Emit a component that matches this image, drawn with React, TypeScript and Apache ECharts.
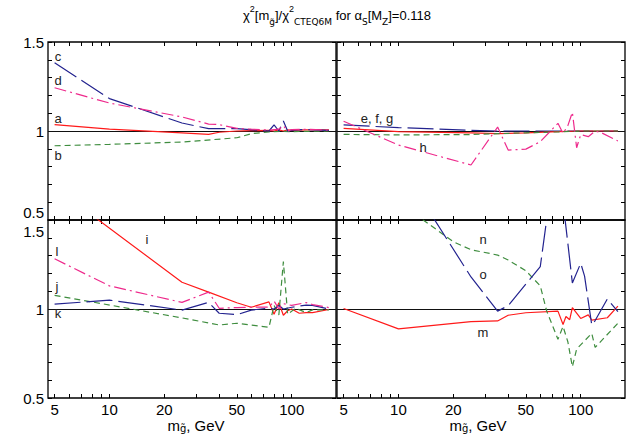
import React, { useEffect, useRef } from "react";
import * as echarts from "echarts";

// ---- axis ticks / labels ----
const xTickMasses = [5, 6, 7, 8, 9, 10, 20, 30, 40, 50, 60, 70, 80, 90, 100];
const xLabelMasses = [5, 10, 20, 50, 100];
const yLabelValues = [0.5, 1, 1.5];
const X_MIN = 4.6;
const X_MAX = 175;
const Y_MIN = 0.5;
const Y_MAX = 1.5;

// ---- top-left panel ----
const aX = [5, 10, 25, 35, 40, 50, 60, 75, 80, 85, 90, 95, 100, 120, 160];
const aY = [1.036, 1.01, 0.99, 0.981, 0.993, 1.0, 1.002, 1.003, 1.0, 1.006, 1.0, 1.006, 1.004, 1.006, 1.006];
const bX = [5, 10, 25, 50, 60, 75, 90, 100, 120, 160];
const bY = [0.917, 0.925, 0.938, 0.962, 0.985, 0.995, 0.998, 0.996, 0.998, 1.0];
const cX = [5, 10, 25, 35, 50, 75, 80, 85, 90, 95, 100, 120, 160];
const cY = [1.384, 1.182, 1.045, 1.013, 1.013, 1.0, 1.034, 1.0, 1.056, 1.0, 1.005, 1.008, 1.004];
const dX = [5, 10, 25, 35, 40, 50, 60, 75, 85, 90, 95, 100, 120, 160];
const dY = [1.243, 1.157, 1.079, 1.039, 1.036, 1.015, 1.01, 1.005, 1.01, 1.03, 1.0, 1.008, 1.01, 1.005];

// ---- top-right panel ----
const eX = [5, 10, 25, 35, 50, 75, 100, 160];
const eY = [1.034, 1.019, 1.004, 1.0, 1.0, 1.0, 1.0, 1.0];
const fX = [5, 10, 25, 35, 50, 75, 100, 160];
const fY = [1.015, 0.997, 0.99, 0.985, 0.99, 0.997, 1.0, 1.0];
const gX = [5, 10, 25, 35, 50, 75, 100, 160];
const gY = [0.981, 0.978, 0.98, 0.985, 0.99, 0.995, 1.0, 1.0];
const hX = [5, 10, 25, 35, 40, 50, 60, 75, 80, 85, 90, 95, 100, 110, 120, 130, 160];
const hY = [1.055, 0.921, 0.809, 1.022, 0.893, 0.898, 0.94, 1.043, 0.987, 1.03, 1.105, 0.906, 0.98, 0.968, 1.0, 0.99, 0.944];

// ---- bottom-left panel ----
const iX = [5, 25, 35, 50, 60, 75, 80, 85, 90, 95, 100, 110, 120, 130, 160];
const iY = [1.684, 1.15, 1.095, 1.035, 1.01, 1.04, 0.97, 1.035, 0.965, 0.99, 1.0, 0.976, 0.98, 0.98, 0.997];
const jX = [5, 25, 40, 50, 75, 80, 85, 90, 95, 105, 120, 130, 160];
const jY = [1.077, 0.95, 0.91, 0.92, 0.897, 1.02, 0.966, 1.266, 0.97, 1.004, 0.98, 0.995, 0.995];
const kX = [5, 10, 25, 35, 40, 50, 60, 75, 80, 85, 90, 100, 120, 130, 160];
const kY = [1.027, 1.05, 0.994, 1.037, 0.976, 0.968, 0.994, 1.005, 1.0, 1.02, 1.0, 1.01, 1.022, 1.02, 1.0];
const lX = [5, 10, 25, 35, 40, 50, 60, 75, 80, 85, 90, 100, 120, 130, 160];
const lY = [1.282, 1.13, 1.037, 1.095, 1.004, 1.008, 1.01, 1.01, 1.045, 1.0, 1.03, 1.02, 1.036, 1.025, 1.008];

// ---- bottom-right panel ----
const mX = [5, 10, 25, 35, 40, 50, 75, 80, 83, 87, 90, 100, 110, 115, 140, 160];
const mY = [1.003, 0.888, 0.929, 0.933, 0.965, 0.979, 0.988, 0.913, 0.958, 0.94, 1.008, 0.947, 0.967, 0.938, 0.951, 1.016];
const nX = [10, 20, 25, 35, 40, 50, 60, 65, 75, 80, 85, 90, 95, 115, 120, 160];
const nY = [1.6, 1.378, 1.333, 1.303, 1.275, 1.215, 1.13, 0.99, 0.83, 0.902, 0.816, 0.676, 0.775, 0.863, 0.784, 0.92];
const oX = [10, 25, 35, 40, 60, 75, 80, 85, 90, 100, 105, 115, 120, 140, 160];
const oY = [1.82, 1.18, 0.988, 1.019, 1.238, 1.97, 1.6, 1.369, 1.146, 1.257, 1.185, 0.91, 0.935, 1.056, 0.985];

const RED = "#ff1a1a";
const NAVY = "#23238f";
const PINK = "#ee2a8c";
const GREEN = "#3f8d3f";
const FONT = "'Liberation Sans', Arial, Helvetica, sans-serif";

const L = (v: number) => Math.log10(v);

type Style = "solid" | "long" | "dashdot" | "short";
const dashOf = (s: Style): any =>
  s === "solid" ? "solid" : s === "long" ? [26, 6] : s === "dashdot" ? [12, 4, 2, 4] : [6, 4];

export default function App() {
  const ref = useRef<HTMLDivElement>(null);
  useEffect(() => {
    if (!ref.current) return;
    const chart = echarts.init(ref.current, undefined, { renderer: "svg" });

    const grids = [
      { left: 48, top: 42, width: 288, height: 178 },
      { left: 337, top: 42, width: 288, height: 178 },
      { left: 48, top: 220, width: 288, height: 178 },
      { left: 337, top: 220, width: 288, height: 178 },
    ];

    const xAxes: any[] = [];
    const yAxes: any[] = [];
    grids.forEach((_, g) => {
      const isBottomRow = g >= 2;
      const isLeftCol = g % 2 === 0;
      ["bottom", "top"].forEach((pos) => {
        xAxes.push({
          type: "value",
          gridIndex: g,
          position: pos,
          min: L(X_MIN),
          max: L(X_MAX),
          axisLine: { show: false },
          splitLine: { show: false },
          axisTick: {
            show: true,
            inside: true,
            length: 4,
            customValues: xTickMasses.map(L),
            lineStyle: { color: "#000", width: 1 },
          },
          axisLabel: {
            show: pos === "bottom" && isBottomRow,
            customValues: xLabelMasses.map(L),
            formatter: (v: number) => String(Math.round(Math.pow(10, v))),
            fontSize: 15,
            lineHeight: 14,
            fontFamily: FONT,
            color: "#000",
            margin: 4,
          },
        });
      });
      ["left", "right"].forEach((pos) => {
        const showLab = pos === "left" && isLeftCol;
        yAxes.push({
          type: "value",
          gridIndex: g,
          position: pos,
          min: Y_MIN,
          max: Y_MAX,
          interval: 0.1,
          axisLine: { show: false },
          splitLine: { show: false },
          axisTick: { show: true, inside: true, length: 4, lineStyle: { color: "#000", width: 1 } },
          axisLabel: {
            show: showLab,
            customValues: yLabelValues,
            margin: 4,
            formatter: (v: number) => {
              const t = Math.abs(v - 1) < 1e-6 ? "1" : Math.abs(v - 0.5) < 1e-6 ? "0.5" : "1.5";
              if (!isBottomRow && Math.abs(v - 0.5) < 1e-6) return "{up|" + t + "}";
              if (isBottomRow && Math.abs(v - 1.5) < 1e-6) return "{down|" + t + "}";
              return "{n|" + t + "}";
            },
            rich: {
              n: { fontSize: 15, fontFamily: FONT, color: "#000" },
              up: { fontSize: 15, fontFamily: FONT, color: "#000", padding: [0, 0, 16, 0] },
              down: { fontSize: 15, fontFamily: FONT, color: "#000", padding: [22, 0, 0, 0] },
            },
          },
        });
      });
    });

    const mk = (g: number, xs: number[], ys: number[], color: string, s: Style, withRef = false): any => {
      const ser: any = {
        type: "line",
        xAxisIndex: 2 * g,
        yAxisIndex: 2 * g,
        data: xs.map((x, i) => [L(x), ys[i]]),
        symbol: "none",
        clip: true,
        lineStyle: { color, width: 1.2, type: dashOf(s) },
        z: 3,
      };
      if (withRef) {
        ser.markLine = {
          silent: true,
          symbol: "none",
          label: { show: false },
          lineStyle: { color: "#111", type: "solid", width: 1.2 },
          data: [{ yAxis: 1 }],
          z: 2,
        };
      }
      return ser;
    };

    const series = [
      mk(0, aX, aY, RED, "solid", true),
      mk(0, bX, bY, GREEN, "short"),
      mk(0, cX, cY, NAVY, "long"),
      mk(0, dX, dY, PINK, "dashdot"),
      mk(1, eX, eY, NAVY, "long", true),
      mk(1, fX, fY, RED, "solid"),
      mk(1, gX, gY, GREEN, "short"),
      mk(1, hX, hY, PINK, "dashdot"),
      mk(2, iX, iY, RED, "solid", true),
      mk(2, jX, jY, GREEN, "short"),
      mk(2, kX, kY, NAVY, "long"),
      mk(2, lX, lY, PINK, "dashdot"),
      mk(3, mX, mY, RED, "solid", true),
      mk(3, nX, nY, GREEN, "short"),
      mk(3, oX, oY, NAVY, "long"),
    ];

    const letter = (text: string, x: number, y: number) => ({
      type: "text",
      x,
      y,
      style: { text, fill: "#222", fontSize: 13, fontFamily: FONT, align: "center", verticalAlign: "middle" },
      z: 10,
    });

    const axisTitle = (x: number) => ({
      type: "text",
      x,
      y: 425,
      style: {
        text: "{a|m}{s|g\u0303}{a|, GeV}",
        align: "center",
        verticalAlign: "middle",
        rich: {
          a: { fontSize: 15, fontFamily: FONT, fill: "#000", lineHeight: 16 },
          s: { fontSize: 10, fontFamily: "'DejaVu Sans', sans-serif", fill: "#000", verticalAlign: "bottom", lineHeight: 10 },
        },
      },
      z: 10,
    });

    chart.setOption({
      animation: false,
      backgroundColor: "#fff",
      grid: grids.map((g) => ({ ...g, show: true, borderColor: "#000", borderWidth: 1.3, backgroundColor: "transparent", containLabel: false })),
      xAxis: xAxes,
      yAxis: yAxes,
      series,
      graphic: [
        {
          type: "text",
          x: 337,
          y: 15,
          style: {
            text: "{a|\u03c7}{p|2}{a|[m}{b|g\u0303}{a|]/\u03c7}{p|2}{b|CTEQ6M}{a| for \u03b1}{b|S}{a|[M}{b|Z}{a|]=0.118}",
            align: "center",
            verticalAlign: "middle",
            rich: {
              a: { fontSize: 13, fontFamily: FONT, fill: "#000", lineHeight: 22 },
              p: { fontSize: 9, fontFamily: FONT, fill: "#000", verticalAlign: "top", lineHeight: 12 },
              b: { fontSize: 9, fontFamily: "'DejaVu Sans', " + FONT, fill: "#000", verticalAlign: "bottom", lineHeight: 12 },
            },
          },
          z: 10,
        },
        letter("c", 58, 56),
        letter("d", 58, 80),
        letter("a", 58, 118),
        letter("b", 58, 155),
        letter("e, f, g", 377, 118),
        letter("h", 423, 147),
        letter("i", 147, 239),
        letter("l", 57, 251),
        letter("j", 57, 286),
        letter("k", 58, 313),
        letter("n", 483, 239),
        letter("o", 483, 274),
        letter("m", 483, 332),
        axisTitle(196),
        axisTitle(478),
      ],
    });
    return () => chart.dispose();
  }, []);
  return <div ref={ref} style={{ position: "fixed", left: 0, top: 0, width: 631, height: 439 }} />;
}
